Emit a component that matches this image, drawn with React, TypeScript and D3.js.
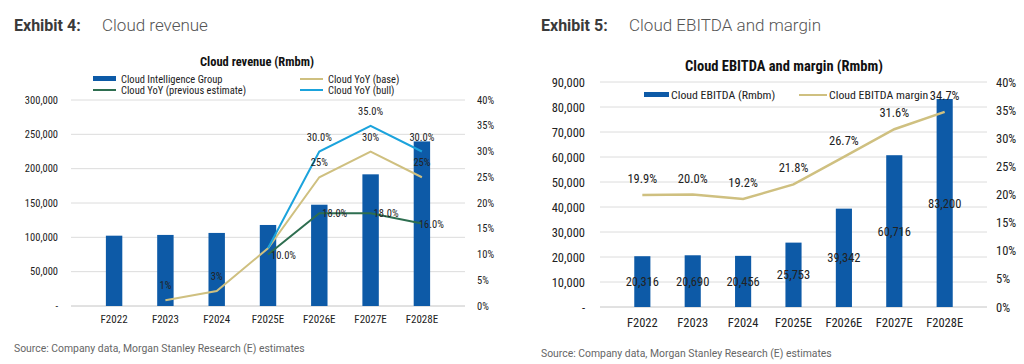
import React from 'react';
import * as d3 from 'd3';

// ---------- Data ----------
const categories = ['F2022', 'F2023', 'F2024', 'F2025E', 'F2026E', 'F2027E', 'F2028E'];

// Exhibit 4
const cloudRevenue = [102400, 103500, 106400, 118000, 147500, 191750, 239700];
const yoyBase: (number | null)[] = [null, 1.1, 2.9, 11.2, 25, 30, 25];
const yoyBaseLabels: (string | null)[] = [null, '1%', '3%', null, '25%', '30%', '25%'];
const yoyBull: (number | null)[] = [null, null, null, 11.2, 30, 35, 30];
const yoyBullLabels: (string | null)[] = [null, null, null, null, '30.0%', '35.0%', '30.0%'];
const yoyPrev: (number | null)[] = [null, null, null, 10, 18, 18, 16];
const yoyPrevLabels: (string | null)[] = [null, null, null, '10.0%', '18.0%', '18.0%', '16.0%'];
const revTicks = [0, 50000, 100000, 150000, 200000, 250000, 300000];
const revPctTicks = [0, 5, 10, 15, 20, 25, 30, 35, 40];

// Exhibit 5
const ebitda = [20316, 20690, 20456, 25753, 39342, 60716, 83200];
const ebitdaMargin = [19.9, 20.0, 19.2, 21.8, 26.7, 31.6, 34.7];
const ebitdaTicks = [0, 10000, 20000, 30000, 40000, 50000, 60000, 70000, 80000, 90000];
const marginTicks = [0, 5, 10, 15, 20, 25, 30, 35, 40];

// ---------- Styles ----------
const BAR = '#0d5aa7';
const KHAKI = '#cfc080';
const BULL = '#1ba3dc';
const PREV = '#2e6e50';
const GRID = '#dcdcdc';
const AXIS = '#c4c4c4';
const TXT = '#222';
const FONT = "'Roboto Condensed', 'DejaVu Sans Condensed', 'Liberation Sans Narrow', Roboto, sans-serif";
const HFONT = "Roboto, 'Open Sans', sans-serif";

const fmt = d3.format(',');
const tickFmt = (v: number) => (v === 0 ? '-' : fmt(v));

function Exhibit4() {
  const x = d3.scaleBand<string>().domain(categories).range([71, 465]).padding(0.68);
  const yL = d3.scaleLinear().domain([0, 300000]).range([306, 100]);
  const yR = d3.scaleLinear().domain([0, 40]).range([306, 100]);
  const cx = (c: string) => (x(c) as number) + x.bandwidth() / 2;
  const line = d3
    .line<[string, number | null]>()
    .defined((d) => d[1] != null)
    .x((d) => cx(d[0]))
    .y((d) => yR(d[1] as number));
  const zip = (arr: (number | null)[]) => categories.map((c, i) => [c, arr[i]] as [string, number | null]);
  return (
    <g>
      <text x={14} y={31} fontFamily={HFONT} fontSize={16} fontWeight={700} fill="#3a3a3a">Exhibit 4:</text>
      <text x={102} y={31} fontFamily={HFONT} fontSize={17} fontWeight={300} fill="#555">Cloud revenue</text>
      <text x={257} y={66} textAnchor="middle" fontFamily={FONT} fontSize={12.5} fontWeight={700} fill="#111">Cloud revenue (Rmbm)</text>
      {/* legend */}
      <g fontFamily={FONT} fontSize={10.5} fill={TXT}>
        <rect x={93} y={76} width={23} height={5} fill={BAR} />
        <text x={121} y={82.5}>Cloud Intelligence Group</text>
        <line x1={93} x2={116} y1={90} y2={90} stroke={PREV} strokeWidth={2} />
        <text x={121} y={94}>Cloud YoY (previous estimate)</text>
        <line x1={300} x2={323} y1={79} y2={79} stroke={KHAKI} strokeWidth={2} />
        <text x={328} y={82.5}>Cloud YoY (base)</text>
        <line x1={300} x2={323} y1={90} y2={90} stroke={BULL} strokeWidth={2} />
        <text x={328} y={94}>Cloud YoY (bull)</text>
      </g>
      {/* grid */}
      {revTicks.map((t) => (
        <line key={t} x1={71} x2={465} y1={yL(t)} y2={yL(t)} stroke={t === 0 ? AXIS : GRID} strokeWidth={1} />
      ))}
      <g fontFamily={FONT} fontSize={10.5} fill={TXT}>
        {revTicks.map((t) => (
          <text key={t} x={58} y={yL(t) + 3.5} textAnchor="end">{tickFmt(t)}</text>
        ))}
        {revPctTicks.map((t) => (
          <text key={t} x={477} y={yR(t) + 3.5}>{t}%</text>
        ))}
        {categories.map((c) => (
          <text key={c} x={cx(c)} y={323} fontSize={11} textAnchor="middle">{c}</text>
        ))}
      </g>
      {/* bars */}
      {categories.map((c, i) => (
        <rect key={c} x={x(c)} y={yL(cloudRevenue[i])} width={x.bandwidth()} height={yL(0) - yL(cloudRevenue[i])} fill={BAR} />
      ))}
      {/* lines */}
      <path d={line(zip(yoyBase)) || ''} fill="none" stroke={KHAKI} strokeWidth={2} />
      <path d={line(zip(yoyBull)) || ''} fill="none" stroke={BULL} strokeWidth={2} />
      <path d={line(zip(yoyPrev)) || ''} fill="none" stroke={PREV} strokeWidth={2} />
      {/* labels */}
      <g fontFamily={FONT} fontSize={10.5} fill={TXT}>
        {categories.map((c, i) =>
          yoyBaseLabels[i] ? (
            <text key={'b' + c} x={cx(c)} y={yR(yoyBase[i] as number) - 11} textAnchor="middle">{yoyBaseLabels[i]}</text>
          ) : null
        )}
        {categories.map((c, i) =>
          yoyBullLabels[i] ? (
            <text key={'u' + c} x={cx(c)} y={yR(yoyBull[i] as number) - 11} textAnchor="middle">{yoyBullLabels[i]}</text>
          ) : null
        )}
        {categories.map((c, i) =>
          yoyPrevLabels[i] ? (
            <text key={'p' + c} x={cx(c) + (i === 6 ? -3 : 3)} y={yR(yoyPrev[i] as number) + 4}>{yoyPrevLabels[i]}</text>
          ) : null
        )}
      </g>
      <text x={14} y={352} fontFamily={HFONT} fontSize={10.4} fill="#666">Source: Company data, Morgan Stanley Research (E) estimates</text>
    </g>
  );
}

function Exhibit5() {
  const x = d3.scaleBand<string>().domain(categories).range([600, 987]).padding(0.68);
  const yL = d3.scaleLinear().domain([0, 90000]).range([307, 82]);
  const yR = d3.scaleLinear().domain([0, 40]).range([307, 82]);
  const cx = (c: string) => (x(c) as number) + x.bandwidth() / 2;
  const line = d3
    .line<number>()
    .x((_, i) => cx(categories[i]))
    .y((d) => yR(d));
  return (
    <g>
      <text x={541} y={31} fontFamily={HFONT} fontSize={16} fontWeight={700} fill="#3a3a3a">Exhibit 5:</text>
      <text x={629} y={31} fontFamily={HFONT} fontSize={17} fontWeight={300} fill="#555">Cloud EBITDA and margin</text>
      <text x={784} y={71} textAnchor="middle" fontFamily={FONT} fontSize={14.5} fontWeight={700} fill="#111">Cloud EBITDA and margin (Rmbm)</text>
      {ebitdaTicks.map((t) => (
        <line key={t} x1={600} x2={987} y1={yL(t)} y2={yL(t)} stroke={t === 0 ? AXIS : GRID} strokeWidth={1} />
      ))}
      <g fontFamily={FONT} fontSize={12.5} fill={TXT}>
        {ebitdaTicks.map((t) => (
          <text key={t} x={585} y={yL(t) + 4.5} textAnchor="end">{tickFmt(t)}</text>
        ))}
        {marginTicks.map((t) => (
          <text key={t} x={996} y={yR(t) + 4.5}>{t}%</text>
        ))}
        {categories.map((c) => (
          <text key={c} x={cx(c)} y={327} textAnchor="middle">{c}</text>
        ))}
      </g>
      {/* legend */}
      <g fontFamily={FONT} fontSize={11.8} fill={TXT}>
        <rect x={644} y={92} width={25} height={5} fill={BAR} />
        <text x={671} y={99}>Cloud EBITDA (Rmbm)</text>
        <line x1={799} x2={827} y1={95} y2={95} stroke={KHAKI} strokeWidth={2} />
        <text x={829} y={99}>Cloud EBITDA margin</text>
      </g>
      {categories.map((c, i) => (
        <rect key={c} x={x(c)} y={yL(ebitda[i])} width={x.bandwidth()} height={yL(0) - yL(ebitda[i])} fill={BAR} />
      ))}
      <path d={line(ebitdaMargin) || ''} fill="none" stroke={KHAKI} strokeWidth={2.5} />
      <g fontFamily={FONT} fontSize={12.5} fill={TXT} textAnchor="middle">
        {categories.map((c, i) => (
          <text key={'v' + c} x={cx(c)} y={(yL(ebitda[i]) + yL(0)) / 2 + 4.5}>{fmt(ebitda[i])}</text>
        ))}
        {categories.map((c, i) => (
          <text key={'m' + c} x={cx(c)} y={yR(ebitdaMargin[i]) - 12}>{ebitdaMargin[i].toFixed(1)}%</text>
        ))}
      </g>
      <text x={541} y={357} fontFamily={HFONT} fontSize={10.4} fill="#666">Source: Company data, Morgan Stanley Research (E) estimates</text>
    </g>
  );
}

export default function App() {
  return (
    <svg
      width={1024}
      height={364}
      style={{ position: 'absolute', left: 0, top: 0, background: '#fff' }}
    >
      <rect width={1024} height={364} fill="#fff" />
      <Exhibit4 />
      <Exhibit5 />
    </svg>
  );
}
